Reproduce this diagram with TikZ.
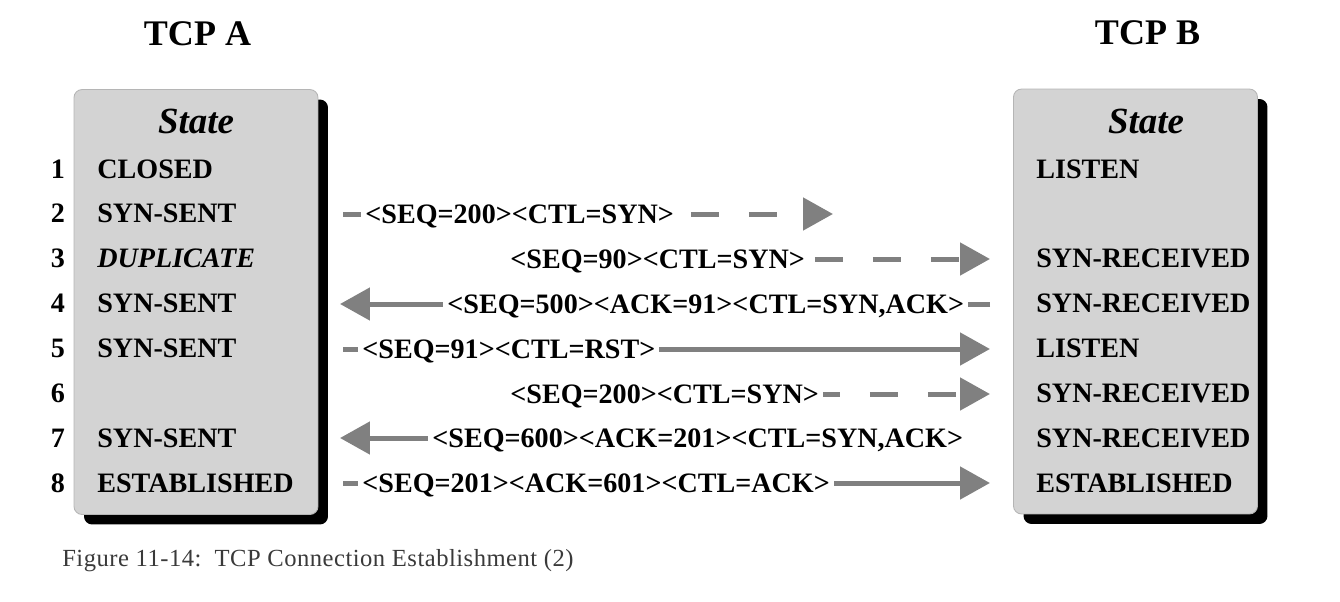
\documentclass[tikz,border=0pt]{standalone}
\usepackage{fontspec}
\setmainfont{Liberation Serif}
\newfontfamily\capfont[LetterSpace=2]{Liberation Serif}
\usetikzlibrary{arrows.meta,positioning,shadows}
\definecolor{BoxF}{HTML}{D3D3D3}
\definecolor{BoxD}{HTML}{B5B5B5}
\definecolor{ArrG}{HTML}{808080}
\definecolor{CapT}{HTML}{3A3A3A}

\begin{document}
\begin{tikzpicture}[x=0.02cm,y=-0.02cm,
    stbox/.style={draw=BoxD,fill=BoxF,rounded corners=0.16cm,line width=0.5pt,
      minimum width=4.88cm,minimum height=8.5cm,
      drop shadow={shadow xshift=0.2cm,shadow yshift=-0.2cm,fill=black,opacity=1}},
    title/.style={font=\fontsize{20.5}{24}\selectfont\bfseries,anchor=base,inner sep=0pt},
    head/.style={font=\fontsize{21}{24}\selectfont\bfseries\itshape,anchor=base,inner sep=0pt},
    st/.style={font=\fontsize{16}{19}\selectfont\bfseries,anchor=base west,inner sep=0pt},
    num/.style={font=\fontsize{16}{19}\selectfont\bfseries,anchor=base,inner sep=0pt},
    msg/.style={font=\fontsize{16}{19}\selectfont\bfseries,anchor=base west,fill=white,
      inner sep=0.08cm},
    seg/.style={ArrG,line width=0.1cm,-{Triangle[length=0.6cm,width=0.64cm]}},
    segd/.style={seg,dash pattern=on 0.56cm off 0.6cm}]
  \useasboundingbox (0,0) rectangle (1340,602);

  % the two state tables
  \node[stbox] (boxA) at (196,302) {};
  \node[stbox] (boxB) at (1135.5,301.5) {};
  \node[title] (tA) at (197.5,45) {TCP A};
  \node[title] (tB) at (1147.5,44) {TCP B};
  \node[head] (hA) at (196,133) {State};
  \node[head] (hB) at (1146,133) {State};

  \foreach \i in {1,...,8}
    \node[num] (n\i) at (58,{133.1+44.9*\i}) {\i};
  \foreach \i/\s in {1/CLOSED,2/SYN-SENT,3/\textit{DUPLICATE},4/SYN-SENT,
      5/SYN-SENT,7/SYN-SENT,8/ESTABLISHED}
    \node[st] (a\i) at (97,{133.1+44.9*\i}) {\s};
  \foreach \i/\s in {1/LISTEN,3/SYN-RECEIVED,4/SYN-RECEIVED,5/LISTEN,
      6/SYN-RECEIVED,7/SYN-RECEIVED,8/ESTABLISHED}
    \node[st] (b\i) at (1036,{133.1+44.9*\i}) {\s};

  % segments
  \coordinate (s2) at (343,214);   \coordinate (e2) at (833,214);
  \coordinate (s3) at (525,259);   \coordinate (e3) at (990,259);
  \coordinate (s4) at (990,304);   \coordinate (e4) at (340,304);
  \coordinate (s5) at (343,349);   \coordinate (e5) at (990,349);
  \coordinate (s6) at (522,394);   \coordinate (e6) at (990,394);
  \coordinate (s7) at (960,438);   \coordinate (e7) at (340,438);
  \coordinate (s8) at (343,483);   \coordinate (e8) at (990,483);
  \draw[segd] (s2) -- (e2);
  \draw[segd] (s3) -- (e3);
  \draw[seg] (s4) -- (e4);
  \draw[seg] (s5) -- (e5);
  \draw[segd] (s6) -- (e6);
  \draw[seg] (s7) -- (e7);
  \draw[seg] (s8) -- (e8);

  \node[msg] (m2) at (361,223) {<SEQ=200><CTL=SYN>};
  \node[msg] (m3) at (506,268) {<SEQ=90><CTL=SYN>};
  \node[msg] (m4) at (443,313) {<SEQ=500><ACK=91><CTL=SYN,ACK>};
  \node[msg] (m5) at (358,358) {<SEQ=91><CTL=RST>};
  \node[msg] (m6) at (506,403) {<SEQ=200><CTL=SYN>};
  \node[msg] (m7) at (428,447) {<SEQ=600><ACK=201><CTL=SYN,ACK>};
  \node[msg] (m8) at (358,492) {<SEQ=201><ACK=601><CTL=ACK>};

  \node[font=\capfont\fontsize{14}{16}\selectfont,text=CapT,anchor=base west,
    inner sep=0pt] (cap) at (62,566) {Figure 11-14:\ \ TCP Connection Establishment (2)};
\end{tikzpicture}
\end{document}
